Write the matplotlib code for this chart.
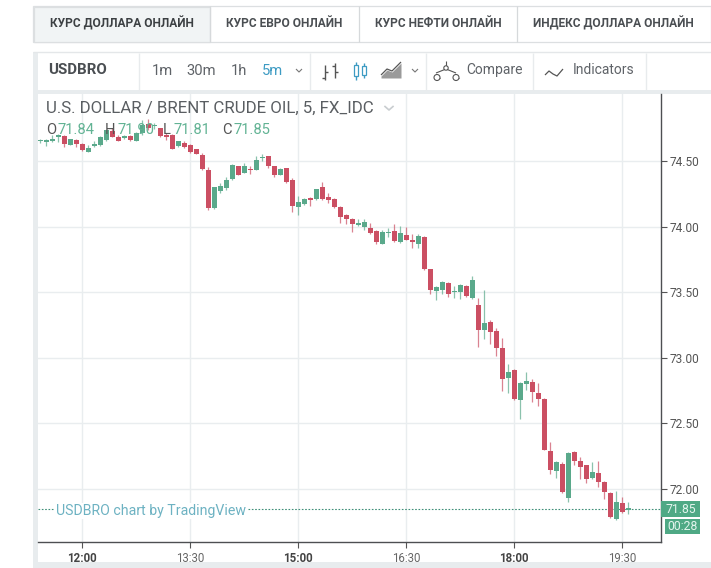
import matplotlib
matplotlib.use("Agg")
import matplotlib.pyplot as plt
from matplotlib.patches import Rectangle
import numpy as np

plt.rcParams['font.family'] = ['Roboto', 'DejaVu Sans']

# ---------- data (5-minute candles, index 0 = 12:00) ----------
first_index = -7
opens = [74.650,74.645,74.655,74.685,74.69,74.625,74.66,74.63,74.57,74.615,
         74.625,74.66,74.725,74.685,74.675,74.69,74.655,74.71,74.78,74.765,
         74.75,74.70,74.70,74.615,74.64,74.62,74.59,74.545,74.435,74.14,
         74.27,74.295,74.36,74.46,74.41,74.44,74.435,74.52,74.535,74.46,
         74.395,74.445,74.355,74.15,74.17,74.22,74.21,74.30,74.225,74.21,
         74.15,74.09,74.06,74.015,73.995,73.99,73.965,73.87,73.95,73.965,
         73.88,73.935,73.90,73.87,73.92,73.675,73.51,73.515,73.57,73.50,
         73.50,73.55,73.455,73.40,73.21,73.27,73.205,73.075,72.845,72.91,
         72.68,72.80,72.815,72.73,72.685,72.29,72.14,72.19,71.93,72.28,
         72.215,72.18,72.085,72.12,72.055,71.97,71.77,71.895,71.84]
highs = [74.67,74.665,74.695,74.705,74.70,74.67,74.67,74.635,74.62,74.655,
         74.69,74.74,74.75,74.70,74.70,74.695,74.72,74.81,74.82,74.79,
         74.755,74.71,74.705,74.655,74.65,74.63,74.595,74.56,74.455,74.305,
         74.33,74.38,74.475,74.465,74.485,74.46,74.54,74.55,74.54,74.465,
         74.45,74.45,74.37,74.23,74.22,74.225,74.29,74.34,74.255,74.215,
         74.155,74.095,74.065,74.055,74.055,74.03,73.975,73.975,73.99,74.02,
         74.005,73.995,73.945,73.945,73.925,73.68,73.545,73.585,73.575,73.545,
         73.56,73.555,73.625,73.455,73.52,73.29,73.225,73.15,72.955,72.915,
         72.815,72.89,72.835,72.805,72.69,72.355,72.21,72.205,72.28,72.29,
         72.245,72.185,72.205,72.215,72.06,71.975,71.985,71.94,71.90]
lows = [74.64,74.615,74.645,74.645,74.61,74.62,74.61,74.58,74.565,74.61,
        74.615,74.65,74.68,74.65,74.665,74.655,74.65,74.70,74.74,74.745,
        74.685,74.66,74.59,74.61,74.60,74.56,74.55,74.435,74.125,74.135,
        74.255,74.28,74.355,74.39,74.405,74.40,74.43,74.50,74.45,74.375,
        74.39,74.335,74.11,74.085,74.165,74.155,74.205,74.205,74.18,74.14,
        74.025,74.02,73.96,74.005,73.975,73.94,73.865,73.865,73.92,73.885,
        73.875,73.895,73.835,73.835,73.67,73.49,73.44,73.49,73.465,73.455,
        73.45,73.46,73.45,73.08,73.145,73.105,73.015,72.75,72.73,72.68,
        72.535,72.755,72.665,72.63,72.295,72.115,72.085,71.97,71.90,72.18,
        72.075,72.045,72.08,72.015,71.925,71.78,71.765,71.82,71.81]
closes = [74.655,74.65,74.665,74.69,74.63,74.668,74.63,74.585,74.60,74.62,
          74.68,74.735,74.685,74.655,74.68,74.66,74.71,74.775,74.75,74.77,
          74.69,74.685,74.595,74.65,74.605,74.57,74.555,74.44,74.145,74.30,
          74.31,74.355,74.47,74.395,74.46,74.43,74.51,74.525,74.46,74.395,
          74.44,74.34,74.155,74.19,74.21,74.20,74.285,74.21,74.20,74.15,
          74.07,74.06,74.02,74.02,74.035,73.95,73.88,73.96,73.96,73.89,
          73.95,73.90,73.885,73.93,73.675,73.515,73.54,73.58,73.485,73.51,
          73.555,73.47,73.595,73.21,73.265,73.195,73.075,72.84,72.89,72.685,
          72.81,72.825,72.74,72.685,72.30,72.145,72.205,71.975,72.275,72.215,
          72.17,72.075,72.13,72.055,71.98,71.79,71.90,71.825,71.85]

price_ticks = [72.00, 72.50, 73.00, 73.50, 74.00, 74.50]
time_ticks = [0, 18, 36, 54, 72, 90]
time_labels = ['12:00', '13:30', '15:00', '16:30', '18:00', '19:30']
bold_times = ['12:00', '15:00', '18:00']
last_price = 71.85
tabs = ['КУРС ДОЛЛАРА ОНЛАЙН', 'КУРС ЕВРО ОНЛАЙН', 'КУРС НЕФТИ ОНЛАЙН', 'ИНДЕКС ДОЛЛАРА ОНЛАЙН']

UP = '#5aa98b'
DOWN = '#cb4f63'
GRID = '#e9edef'
PANEL = '#e8ecee'
TXT = '#5f6368'

W, H = 711, 568
fig = plt.figure(figsize=(W/100, H/100), dpi=100, facecolor='white')

# ---------- page chrome in pixel coordinates ----------
bg = fig.add_axes([0, 0, 1, 1], zorder=0)
bg.set_xlim(0, W); bg.set_ylim(H, 0); bg.axis('off')

def rect(x0, y0, x1, y1, fc, ec='none', lw=0, ax=bg, z=1):
    ax.add_patch(Rectangle((x0, y0), x1-x0, y1-y0, fc=fc, ec=ec, lw=lw, zorder=z))

def line(xs, ys, c='#555555', lw=1.0, ax=bg, z=3):
    ax.plot(xs, ys, color=c, lw=lw, zorder=z, solid_capstyle='butt')

# tabs
rect(33, 6, 711, 42, 'white', '#dcdfe1', 0.9)
rect(33.5, 6.5, 210, 41.5, '#f1f4f5', '#dcdfe1', 0.9, z=2)
for x in (210, 359, 517):
    line([x, x], [6, 42], '#d6d9db', 0.9)
tab_centres = [121.5, 284, 438, 613.5]
for i, (t, c) in enumerate(zip(tabs, tab_centres)):
    bg.text(c, 23.5, t, ha='center', va='center', fontsize=8.6, fontweight='bold',
            color='#3c4043' if i == 0 else '#4a4e52', zorder=4)

# panel frame
rect(33, 52, 38, 562, PANEL)
rect(33, 90, 711, 94, PANEL)
rect(33, 562, 711, 568, PANEL)
line([33, 711], [52, 52], '#e4e7e9', 1.0)
for x in (139, 310, 426, 533, 646):
    line([x, x], [53, 90], '#e8ebed', 1.0)

bg.text(48, 70.5, 'USDBRO', ha='left', va='center', fontsize=10.8, fontweight='bold', color='#4a4e52', zorder=4)
for x, s, col in [(152, '1m', TXT), (186, '30m', TXT), (231, '1h', TXT), (262, '5m', '#3d9bc3')]:
    bg.text(x, 71, s, ha='left', va='center', fontsize=10.6, color=col, zorder=4)
bg.text(466, 70, 'Compare', ha='left', va='center', fontsize=10, color=TXT, zorder=4)
bg.text(573, 70, 'Indicators', ha='left', va='center', fontsize=10, color=TXT, zorder=4)

# chevrons
for x in (299, 415):
    line([x-3, x, x+3], [69, 72, 69], '#777777', 0.8)
# bar icon
line([325, 325], [65, 80], '#555555', 1.0); line([322, 325], [78, 78], '#555555', 1.0); line([325, 328], [72, 72], '#555555', 1.0)
line([335, 335], [63, 78], '#555555', 1.0); line([332, 335], [66, 66], '#555555', 1.0); line([335, 338], [72, 72], '#555555', 1.0)
# candle icon
for x, y0, y1, w0, w1 in [(356, 65, 76, 62, 80), (364, 66, 75, 63, 78)]:
    line([x, x], [w0, w1], '#3d9bc3', 1.0)
    rect(x-2, y0, x+2, y1, 'white', '#3d9bc3', 0.9, z=4)
# area icon
bg.fill_between([381, 387, 392, 401], [76, 70, 72, 63], [78, 78, 78, 78], color='#9a9a9a', lw=0, zorder=3)
line([381, 387, 392, 401], [75, 69, 71, 62], '#555555', 0.9)
# scales icon
line([436, 446, 456], [73, 69, 73], '#555555', 0.8)
line([446, 446], [61, 66], '#555555', 0.8)
line([434, 440], [77.5, 77.5], '#555555', 0.8)
line([453, 459], [77.5, 77.5], '#555555', 0.8)
for cx, cy, r in [(437, 77.5, 3), (456, 77.5, 3), (446, 68, 2.2)]:
    bg.add_patch(plt.Circle((cx, cy), r, fc='white', ec='#555555', lw=0.8, zorder=3))
# squiggle icon
line([545, 549, 553, 557, 563], [75, 71, 74, 76, 69], '#555555', 0.9)

# ---------- candlesticks ----------
L, R, T, B = 38, 661, 94, 542
ax = fig.add_axes([L/W, 1-B/H, (R-L)/W, (B-T)/H], zorder=2)
ax.patch.set_alpha(0)
px_per_candle = 6.0
px_per_unit = 131.2
ax.set_xlim((L-82)/px_per_candle, (R-82)/px_per_candle)
ax.set_ylim(72-(B-489)/px_per_unit, 72+(489-T)/px_per_unit)

o, h, l, c = map(np.array, (opens, highs, lows, closes))
idx = np.arange(first_index, first_index+len(o))
colors = [UP if cc >= oo else DOWN for oo, cc in zip(o, c)]
ax.vlines(idx, l, h, colors=colors, lw=0.9, alpha=0.7, zorder=3)
heights = np.maximum(np.abs(c-o), 0.012)
bottoms = np.minimum(o, c)
ax.bar(idx, heights, bottom=bottoms, width=5.0/px_per_candle, color=colors, lw=0, zorder=4)

ax.set_yticks(price_ticks)
ax.set_yticklabels([f'{p:.2f}' for p in price_ticks])
ax.set_xticks(time_ticks)
ax.set_xticklabels(time_labels)
ax.yaxis.tick_right()
ax.grid(True, color=GRID, lw=1.0, zorder=0)
ax.set_axisbelow(True)
for s in ('top', 'left'):
    ax.spines[s].set_visible(False)
for s in ('right', 'bottom'):
    ax.spines[s].set_color('#4d4f52')
    ax.spines[s].set_linewidth(1.0)
ax.tick_params(axis='y', length=4, width=0.8, color='#555555', labelsize=8.6, labelcolor='#555555', pad=2)
ax.tick_params(axis='x', length=4, width=0.8, color='#555555', labelsize=8.3, labelcolor='#666666', pad=3)
for lab in ax.get_xticklabels():
    if lab.get_text() in bold_times:
        lab.set_fontweight('bold')
        lab.set_color('#444444')

ax.axhline(last_price, color='#3f8f78', lw=0.8, ls=(0, (1.5, 1.5)), zorder=2)

# ---------- overlay text ----------
top = fig.add_axes([0, 0, 1, 1], zorder=3)
top.set_xlim(0, W); top.set_ylim(H, 0); top.axis('off')
top.text(46, 108, 'U.S. DOLLAR / BRENT CRUDE OIL, 5, FX_IDC', ha='left', va='center', fontsize=12.2, color='#5a5e62')
top.plot([385, 389, 393], [106.5, 110, 106.5], color='#c9cdd0', lw=1.2)
for x, s, col in [(46, 'O', '#555555'), (57, '71.84', '#62b394'), (105, 'H', '#555555'), (117, '71.90', '#62b394'),
                  (163, 'L', '#555555'), (173, '71.81', '#62b394'), (222, 'C', '#555555'), (233, '71.85', '#62b394')]:
    top.text(x, 129.5, s, ha='left', va='center', fontsize=10.6, color=col)
top.text(56, 511, 'USDBRO chart by TradingView', ha='left', va='center', fontsize=10.2, color='#6db2c2',
         bbox=dict(fc='white', ec='none', pad=1.0))
rect(661, 501, 700, 517, '#4fa985', ax=top)
rect(665, 519, 700, 534, '#4fa985', ax=top)
top.text(681, 509.5, '71.85', ha='center', va='center', fontsize=8.8, color='#e4f5ee')
top.text(682.5, 526.5, '00:28', ha='center', va='center', fontsize=8.8, color='#e4f5ee')

fig.savefig('out.png', dpi=100, facecolor='white')
